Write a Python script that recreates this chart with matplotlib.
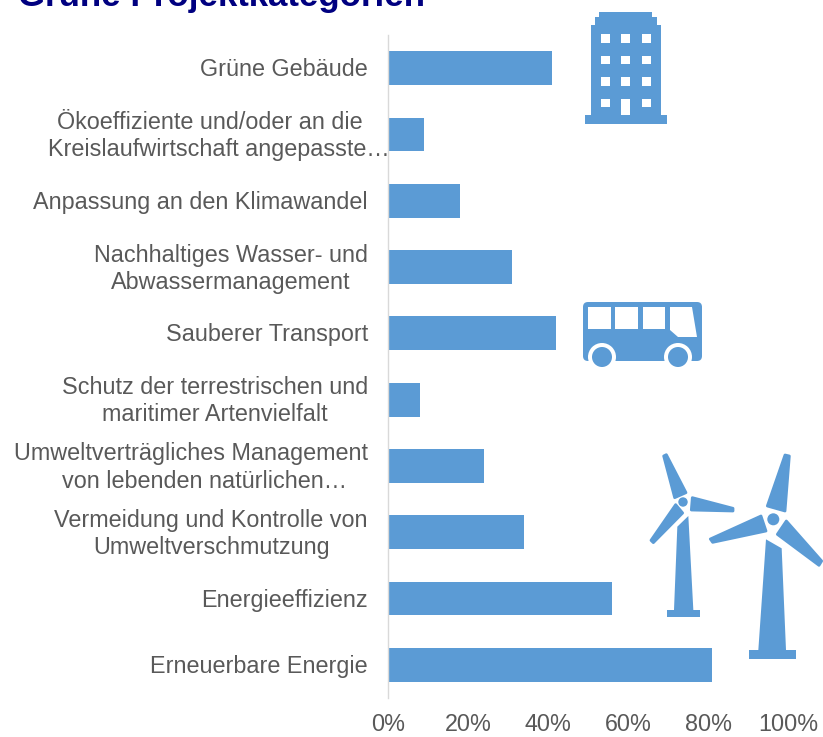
import matplotlib
matplotlib.use("Agg")
import matplotlib.pyplot as plt
from matplotlib.patches import Polygon, Rectangle, Circle, FancyBboxPatch
from matplotlib.transforms import ScaledTranslation

plt.rcParams['font.family'] = ['Liberation Sans', 'DejaVu Sans']

title = "Grüne Projektkategorien"
NB = "\u00a0"
categories = [
    "Grüne Gebäude",
    "Ökoeffiziente und/oder an die" + NB * 3 + "\nKreislaufwirtschaft angepasste…",
    "Anpassung an den Klimawandel",
    "Nachhaltiges Wasser- und\nAbwassermanagement",
    "Sauberer Transport",
    "Schutz der terrestrischen und\nmaritimer Artenvielfalt",
    "Umweltverträgliches Management" + NB * 4 + "\nvon lebenden natürlichen…",
    "Vermeidung und Kontrolle von\nUmweltverschmutzung",
    "Energieeffizienz",
    "Erneuerbare Energie",
]
values = [41, 9, 18, 31, 42, 8, 24, 34, 56, 81]
x_ticks = [0, 20, 40, 60, 80, 100]
x_tick_labels = ["0%", "20%", "40%", "60%", "80%", "100%"]

BLUE = "#5B9BD5"
GREY = "#595959"
W, H = 823, 737
fig = plt.figure(figsize=(W / 100, H / 100), dpi=100, facecolor="white")
ax = fig.add_axes([388 / W, 1 - 698 / H, 400 / W, 663 / H])
y = list(range(len(values)))
ax.barh(y, values, height=0.51, color=BLUE)
ax.set_xlim(0, 100)
ax.set_ylim(len(values) - 0.5, -0.5)
for s in ("top", "right", "bottom"):
    ax.spines[s].set_visible(False)
ax.spines["left"].set_color("#D9D9D9")
ax.spines["left"].set_linewidth(1.0)
ax.set_xticks(x_ticks, x_tick_labels)
ax.set_yticks(y, categories, multialignment="center", linespacing=1.24)
ax.tick_params(axis="both", length=0, labelsize=16.8, labelcolor=GREY)
ax.tick_params(axis="y", pad=14.4)
ax.tick_params(axis="x", pad=10.8)
labels = ax.get_yticklabels()
shifts = {1: (22, 0), 6: (26, 0)}
for i, lab in enumerate(labels):
    dx, _ = shifts.get(i, (0, 0))
    dy = 3 if "\n" in categories[i] else 1
    lab.set_transform(lab.get_transform() + ScaledTranslation(dx / 100, dy / 100, fig.dpi_scale_trans))

ov = fig.add_axes([0, 0, 1, 1], facecolor="none")
ov.set_xlim(0, W)
ov.set_ylim(H, 0)
ov.axis("off")
ov.text(18, 6, title, fontsize=25.1, fontweight="bold", color="#000080", va="baseline", ha="left")


def poly(pts, color=BLUE, z=3, soft=False):
    ov.add_patch(Polygon(pts, closed=True, fc=color, ec=color if soft else "none",
                         lw=2 if soft else 0, joinstyle="round", zorder=z))


def rect(x0, y0, x1, y1, color=BLUE, z=3):
    ov.add_patch(Rectangle((x0, y0), x1 - x0, y1 - y0, fc=color, ec="none", zorder=z))


def circ(x, y, r, color=BLUE, z=3):
    ov.add_patch(Circle((x, y), r, fc=color, ec="none", zorder=z))


def z2(pts):
    return [(620 + a / 3, 430 + b / 3) for a, b in pts]


# building icon
rect(599, 12, 652, 18)
rect(595, 17, 657, 26)
rect(591, 25, 661, 116)
rect(585, 115, 667, 124)
for wy0, wy1 in [(34, 43), (56, 64), (77, 86), (99, 107)]:
    for wx0, wx1 in [(601, 610), (621, 630), (642, 651)]:
        rect(wx0, wy0, wx1, wy1 if not (wx0 == 621 and wy0 == 99) else 115, "white", 4)

# bus icon
ov.add_patch(FancyBboxPatch((586, 305), 113, 53, boxstyle="round,pad=3,rounding_size=5",
                            fc=BLUE, ec="none", zorder=3))
for wx0, wx1 in [(588, 611), (615, 638), (643, 665)]:
    rect(wx0, 307, wx1, 329, "white", 4)
poly([(670, 307), (692, 307), (697, 337), (678, 337), (670, 330)], "white", 4)
rect(580, 361, 706, 368, "white", 4)
for cx in (602, 678):
    circ(cx, 357, 14, "white", 5)
    circ(cx, 357, 10, BLUE, 6)

# small turbine
poly(z2([(131, 78), (139, 74), (198, 188), (164, 203)]), soft=True)
poly(z2([(217, 203), (339, 235), (339, 243), (214, 240)]), soft=True)
poly(z2([(167, 224), (188, 249), (100, 338), (93, 331)]), soft=True)
poly(z2([(172, 290), (205, 258), (220, 540), (162, 540)]))
rect(620 + 140 / 3, 430 + 540 / 3, 620 + 241 / 3, 430 + 560 / 3)
circ(683, 502, 4.7)

# large turbine
poly(z2([(495, 75), (508, 78), (495, 243), (442, 228)]), soft=True)
poly(z2([(423, 258), (438, 303), (278, 337), (271, 327)]), soft=True)
poly(z2([(499, 273), (472, 313), (597, 406), (605, 393)]), soft=True)
poly(z2([(438, 328), (485, 355), (498, 660), (415, 660)]))
rect(620 + 387 / 3, 430 + 660 / 3, 620 + 527 / 3, 430 + 688 / 3)
circ(773.3, 519.3, 6)

fig.savefig("out.png", dpi=100)
